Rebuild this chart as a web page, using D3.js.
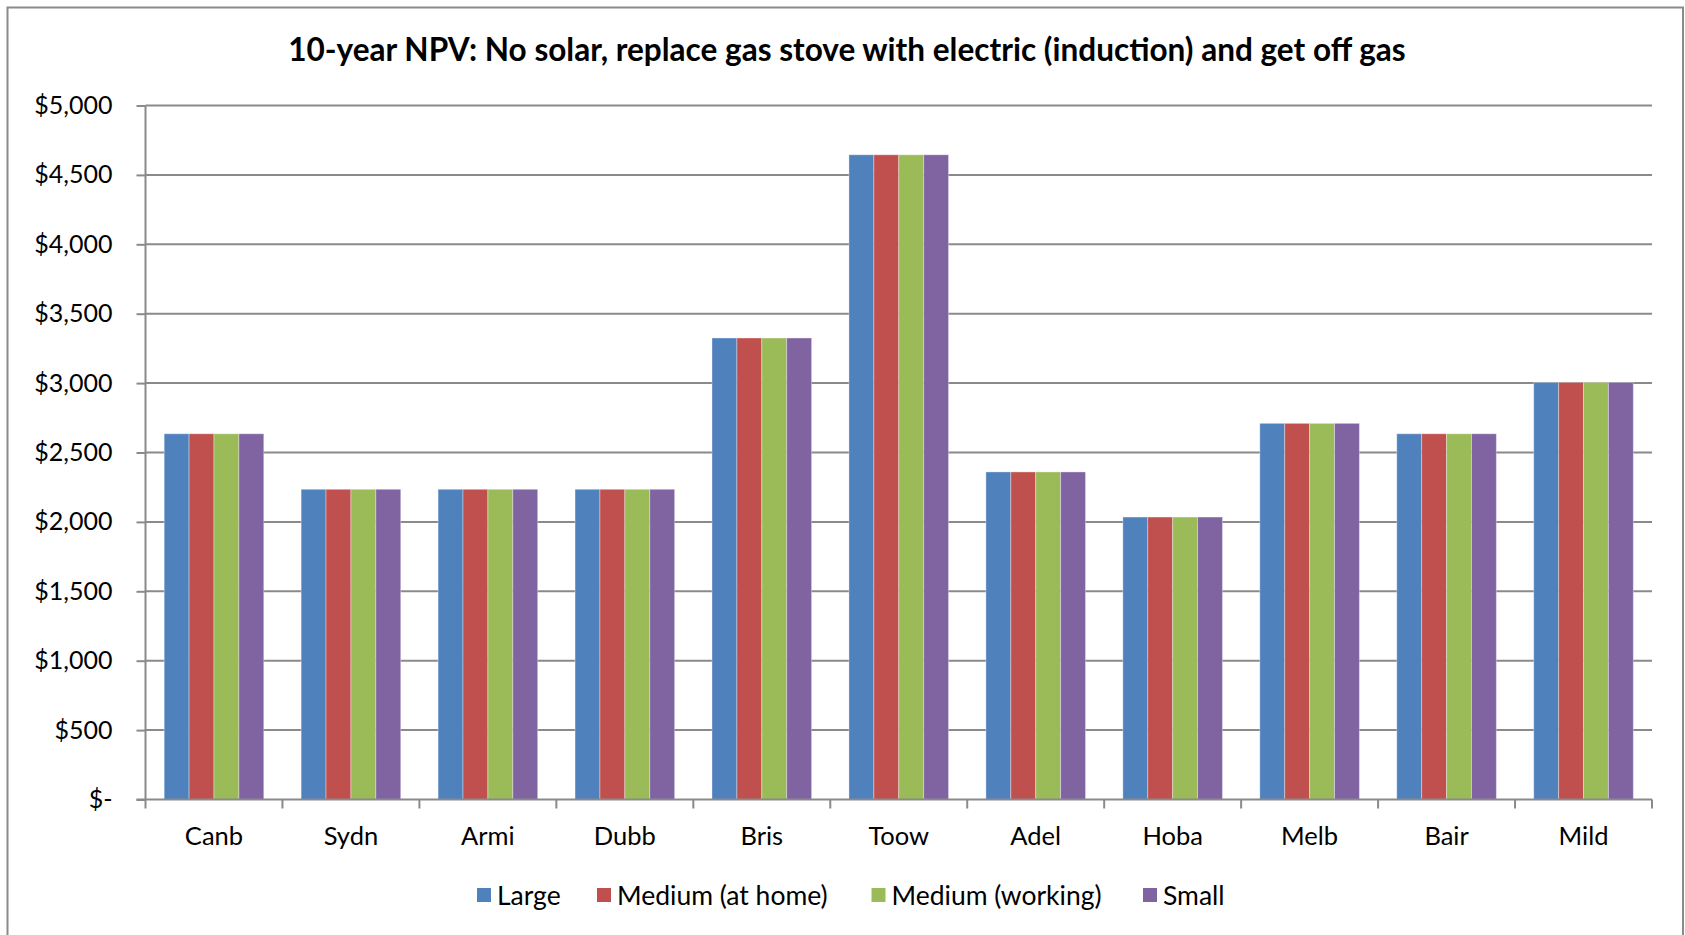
<!DOCTYPE html>
<html>
<head>
<meta charset="utf-8">
<script src="https://cdn.jsdelivr.net/npm/d3@7"></script>
<style>
  html, body { margin: 0; padding: 0; background: #fff; }
  svg { display: block; }
  text { font-family: Lato, "Open Sans", "DejaVu Sans", sans-serif; fill: #000; }
</style>
</head>
<body>
<svg id="chart" width="1685" height="935"></svg>
<script>
// Chart content
const titleText = "10-year NPV: No solar, replace gas stove with electric (induction) and get off gas";
const categories = ["Canb", "Sydn", "Armi", "Dubb", "Bris", "Toow", "Adel", "Hoba", "Melb", "Bair", "Mild"];
const seriesNames = ["Large", "Medium (at home)", "Medium (working)", "Small"];
const seriesColors = ["#4F81BD", "#C0504D", "#9BBB59", "#8064A2"];
// NPV per location, one array per household size
const large         = [2635, 2235, 2235, 2235, 3325, 4645, 2360, 2035, 2710, 2635, 3005];
const mediumAtHome  = [2635, 2235, 2235, 2235, 3325, 4645, 2360, 2035, 2710, 2635, 3005];
const mediumWorking = [2635, 2235, 2235, 2235, 3325, 4645, 2360, 2035, 2710, 2635, 3005];
const small         = [2635, 2235, 2235, 2235, 3325, 4645, 2360, 2035, 2710, 2635, 3005];
const yTicks = [0, 500, 1000, 1500, 2000, 2500, 3000, 3500, 4000, 4500, 5000];
const yTickLabels = ["$-", "$500", "$1,000", "$1,500", "$2,000", "$2,500", "$3,000", "$3,500", "$4,000", "$4,500", "$5,000"];

const seriesValues = [large, mediumAtHome, mediumWorking, small];

const svg = d3.select("#chart");
const plot = { left: 145.5, right: 1652, top: 105.5, bottom: 799.5 };
const gridColor = "#8a8a8a";

// Outer chart frame
svg.append("rect")
  .attr("x", 7.5).attr("y", 7.5)
  .attr("width", 1675.5).attr("height", 940)
  .attr("fill", "none").attr("stroke", gridColor).attr("stroke-width", 2);

// Title, sized to span its slot
const title = svg.append("text")
  .attr("x", 847).attr("y", 61)
  .attr("text-anchor", "middle")
  .attr("font-weight", "bold")
  .attr("font-size", 25)
  .text(titleText);
const tw = title.node().getComputedTextLength();
title.attr("font-size", 25 * 1118 / tw);

// Scales
const y = d3.scaleLinear().domain([0, 5000]).range([plot.bottom, plot.top]);
const x0 = d3.scaleBand().domain(categories).range([plot.left, plot.right]).paddingInner(0).paddingOuter(0);
const x1 = d3.scaleBand().domain(seriesNames).range([0, x0.bandwidth()]).paddingInner(0).paddingOuter(0.75);

// Horizontal gridlines
svg.append("g")
  .selectAll("line")
  .data(yTicks.filter(d => d > 0))
  .join("line")
  .attr("x1", plot.left).attr("x2", plot.right)
  .attr("y1", d => y(d)).attr("y2", d => y(d))
  .attr("stroke", gridColor).attr("stroke-width", 2);

// Bars
const groups = svg.append("g")
  .selectAll("g")
  .data(categories)
  .join("g")
  .attr("transform", c => `translate(${x0(c)},0)`);

groups.selectAll("rect")
  .data((c, i) => seriesNames.map((s, k) => ({ s, k, v: seriesValues[k][i] })))
  .join("rect")
  .attr("x", d => x1(d.s))
  .attr("width", x1.bandwidth())
  .attr("y", d => y(d.v))
  .attr("height", d => y(0) - y(d.v))
  .attr("fill", d => seriesColors[d.k])
  .attr("stroke", "rgba(255,255,255,0.35)")
  .attr("stroke-width", 1);

// Y axis
const yAxis = d3.axisLeft(y)
  .tickValues(yTicks)
  .tickFormat((d, i) => yTickLabels[i])
  .tickSize(9)
  .tickPadding(24);
const gy = svg.append("g")
  .attr("transform", `translate(${plot.left},0)`)
  .call(yAxis);
gy.select(".domain").attr("stroke", gridColor).attr("stroke-width", 2)
  .attr("d", `M0,${plot.top}V${plot.bottom}`);
gy.selectAll(".tick line").attr("stroke", gridColor).attr("stroke-width", 2);
gy.selectAll(".tick text")
  .attr("font-size", 25)
  .attr("font-family", "Lato, 'Open Sans', sans-serif")
  .attr("fill", "#000");

// X axis: ticks sit on category boundaries
const boundaries = d3.range(categories.length + 1).map(i => plot.left + i * x0.step());
const gx = svg.append("g");
gx.append("line")
  .attr("x1", plot.left - 9).attr("x2", plot.right)
  .attr("y1", plot.bottom).attr("y2", plot.bottom)
  .attr("stroke", gridColor).attr("stroke-width", 2);
gx.selectAll("line.bt")
  .data(boundaries)
  .join("line")
  .attr("class", "bt")
  .attr("x1", d => d).attr("x2", d => d)
  .attr("y1", plot.bottom).attr("y2", plot.bottom + 9)
  .attr("stroke", gridColor).attr("stroke-width", 2);
gx.selectAll("text")
  .data(categories)
  .join("text")
  .attr("x", c => x0(c) + x0.bandwidth() / 2)
  .attr("y", 845)
  .attr("text-anchor", "middle")
  .attr("font-size", 25.5)
  .text(c => c);

// Legend
const legendX = [477, 597, 871.5, 1143];
const legend = svg.append("g");
seriesNames.forEach((s, k) => {
  legend.append("rect")
    .attr("x", legendX[k]).attr("y", 888)
    .attr("width", 14).attr("height", 14)
    .attr("fill", seriesColors[k]);
  legend.append("text")
    .attr("x", legendX[k] + 20).attr("y", 904.5)
    .attr("font-size", 26.5)
    .text(s);
});
</script>
</body>
</html>
